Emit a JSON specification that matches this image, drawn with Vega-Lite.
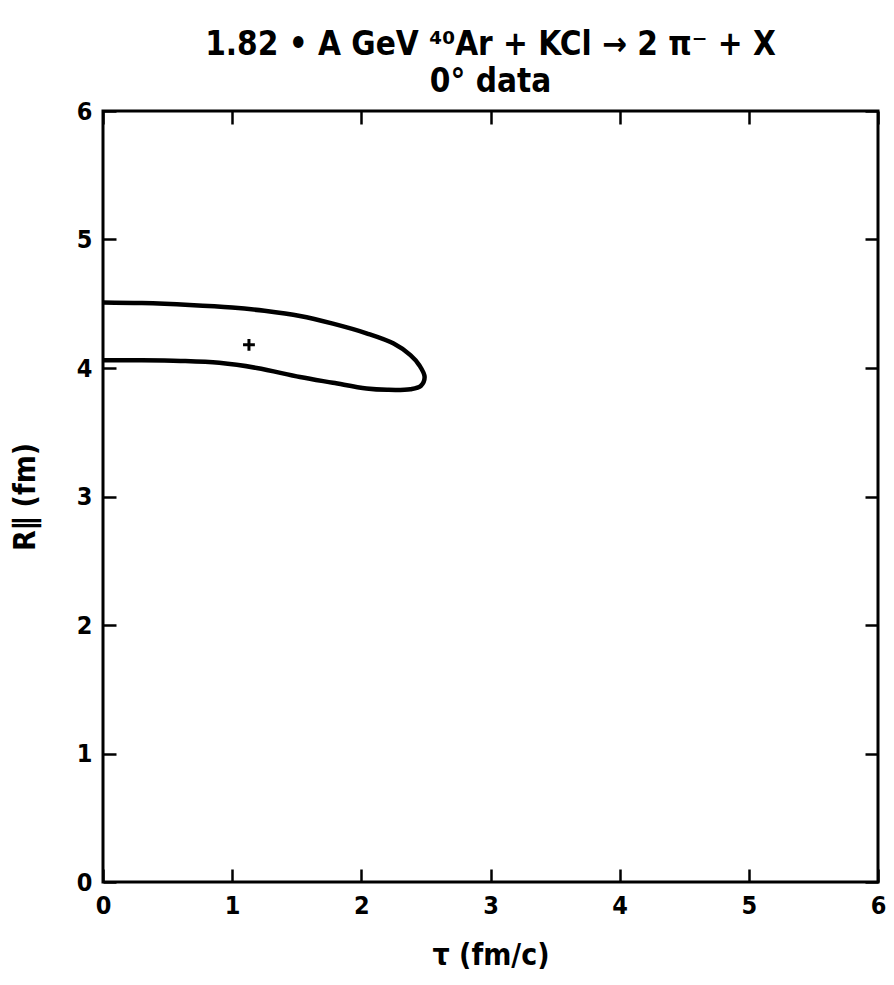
{
  "$schema": "https://vega.github.io/schema/vega-lite/v6.json",
  "autosize": "none",
  "width": 775,
  "height": 771,
  "padding": {"left": 103, "top": 111, "right": 16, "bottom": 103},
  "background": "white",
  "title": {
    "text": ["1.82 • A GeV  ⁴⁰Ar + KCl → 2 π⁻ + X", "0° data"],
    "font": "DejaVu Sans Condensed",
    "fontSize": 33,
    "fontWeight": "bold",
    "color": "black",
    "anchor": "middle",
    "lineHeight": 37,
    "offset": 0
  },
  "config": {
    "view": {"stroke": "black", "strokeWidth": 3},
    "axis": {
      "domain": false,
      "grid": false,
      "tickColor": "black",
      "tickWidth": 2.5,
      "tickSize": -13,
      "labelFont": "DejaVu Sans Condensed",
      "labelFontWeight": "bold",
      "labelFontSize": 25,
      "labelColor": "black",
      "titleFont": "DejaVu Sans Condensed",
      "titleFontWeight": "bold",
      "titleFontSize": 30,
      "titleColor": "black"
    }
  },
  "datasets": {
    "contour": [
      {"i": 0, "tau": 0.0, "r": 4.51},
      {"i": 1, "tau": 0.3, "r": 4.505},
      {"i": 2, "tau": 0.67, "r": 4.49},
      {"i": 3, "tau": 1.0, "r": 4.47},
      {"i": 4, "tau": 1.25, "r": 4.445},
      {"i": 5, "tau": 1.525, "r": 4.405},
      {"i": 6, "tau": 1.78, "r": 4.345},
      {"i": 7, "tau": 2.04, "r": 4.27},
      {"i": 8, "tau": 2.25, "r": 4.19},
      {"i": 9, "tau": 2.38, "r": 4.1},
      {"i": 10, "tau": 2.45, "r": 4.02},
      {"i": 11, "tau": 2.49, "r": 3.93},
      {"i": 12, "tau": 2.46, "r": 3.86},
      {"i": 13, "tau": 2.38, "r": 3.835},
      {"i": 14, "tau": 2.2, "r": 3.83},
      {"i": 15, "tau": 2.04, "r": 3.84},
      {"i": 16, "tau": 1.78, "r": 3.885},
      {"i": 17, "tau": 1.525, "r": 3.93},
      {"i": 18, "tau": 1.19, "r": 4.0},
      {"i": 19, "tau": 0.9, "r": 4.04},
      {"i": 20, "tau": 0.6, "r": 4.055},
      {"i": 21, "tau": 0.3, "r": 4.06},
      {"i": 22, "tau": 0.0, "r": 4.06}
    ],
    "best": [{"tau": 1.13, "r": 4.18}]
  },
  "layer": [
    {
      "data": {"name": "contour"},
      "mark": {"type": "line", "color": "black", "strokeWidth": 4.5, "interpolate": "catmull-rom", "clip": true},
      "encoding": {
        "x": {"field": "tau", "type": "quantitative", "scale": {"domain": [0, 6], "nice": false, "zero": false},
              "axis": {"orient": "bottom", "values": [0, 1, 2, 3, 4, 5, 6], "title": "τ (fm/c)", "titlePadding": 22, "labelPadding": 24, "labelFlush": false}},
        "y": {"field": "r", "type": "quantitative", "scale": {"domain": [0, 6], "nice": false, "zero": false},
              "axis": {"orient": "left", "values": [0, 1, 2, 3, 4, 5, 6], "title": "R∥ (fm)", "titlePadding": 36, "labelPadding": 24, "labelFlush": false}},
        "order": {"field": "i", "type": "quantitative"}
      }
    },
    {
      "data": {"name": "best"},
      "mark": {"type": "point", "shape": "M-1,0L1,0M0,-1L0,1", "size": 140, "filled": false, "color": "black", "strokeWidth": 3, "opacity": 1},
      "encoding": {
        "x": {"field": "tau", "type": "quantitative", "axis": {"orient": "top", "values": [0, 1, 2, 3, 4, 5, 6], "labels": false, "title": null}},
        "y": {"field": "r", "type": "quantitative", "axis": {"orient": "right", "values": [0, 1, 2, 3, 4, 5, 6], "labels": false, "title": null}}
      }
    }
  ],
  "resolve": {"axis": {"x": "independent", "y": "independent"}}
}
